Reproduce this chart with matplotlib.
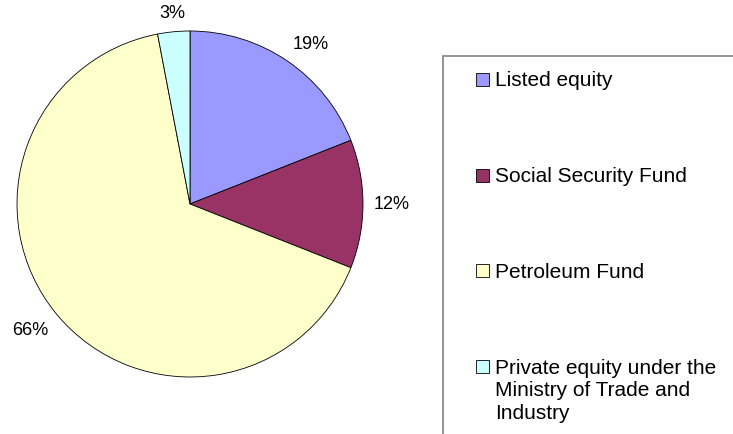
import numpy as np
import matplotlib.pyplot as plt
from matplotlib.patches import Rectangle

plt.rcParams['font.family'] = ['Liberation Sans', 'DejaVu Sans']

# holdings by category, percent of total
categories = ['Listed equity', 'Social Security Fund', 'Petroleum Fund',
              'Private equity under the\nMinistry of Trade and\nIndustry']
shares = [19, 12, 66, 3]
colors = ['#9999FF', '#993366', '#FFFFCC', '#CCFFFF']

W, H = 733, 435
fig = plt.figure(figsize=(W / 100, H / 100), dpi=100)

# pie centre (190, 205) px, radius 173 px
cx, cy, r = 190, 205, 173
ax = fig.add_axes([(cx - r) / W, (H - cy - r) / H, 2 * r / W, 2 * r / H])
wedges, _ = ax.pie(shares, colors=colors, startangle=90, counterclock=False,
                   radius=1, wedgeprops=dict(edgecolor='black', linewidth=0.6))
ax.set_xlim(-1, 1)
ax.set_ylim(-1, 1)

# percentage labels just outside each wedge, anchored on the side facing the pie
for w, v in zip(wedges, shares):
    ang = np.deg2rad((w.theta1 + w.theta2) / 2)
    c, s = np.cos(ang), np.sin(ang)
    ha = 'center' if abs(c) < 0.2 else ('left' if c > 0 else 'right')
    va = 'center' if abs(s) < 0.2 else ('bottom' if s > 0 else 'top')
    ax.text(1.06 * c, 1.06 * s, f'{v}%', ha=ha, va=va, fontsize=13,
            clip_on=False)

# legend frame (runs off the right and bottom edges)
fig.add_artist(Rectangle((443 / W, -0.1), 0.5, (H - 57) / H + 0.1,
                         transform=fig.transFigure, facecolor='white',
                         edgecolor='#808080', linewidth=1.2, clip_on=False))

# swatch centres in px from the top
entry_y = [80, 176, 271.5, 367]
line_gap = 23
for lab, col, yy in zip(categories, colors, entry_y):
    fig.add_artist(Rectangle((476 / W, 1 - (yy + 6.5) / H), 13 / W, 13 / H,
                             transform=fig.transFigure, facecolor=col,
                             edgecolor='black', linewidth=0.6))
    for i, part in enumerate(lab.split('\n')):
        fig.text(495 / W, 1 - (yy + 6.5 + i * line_gap) / H, part,
                 ha='left', va='baseline', fontsize=15)

fig.savefig('out.png', dpi=100)
